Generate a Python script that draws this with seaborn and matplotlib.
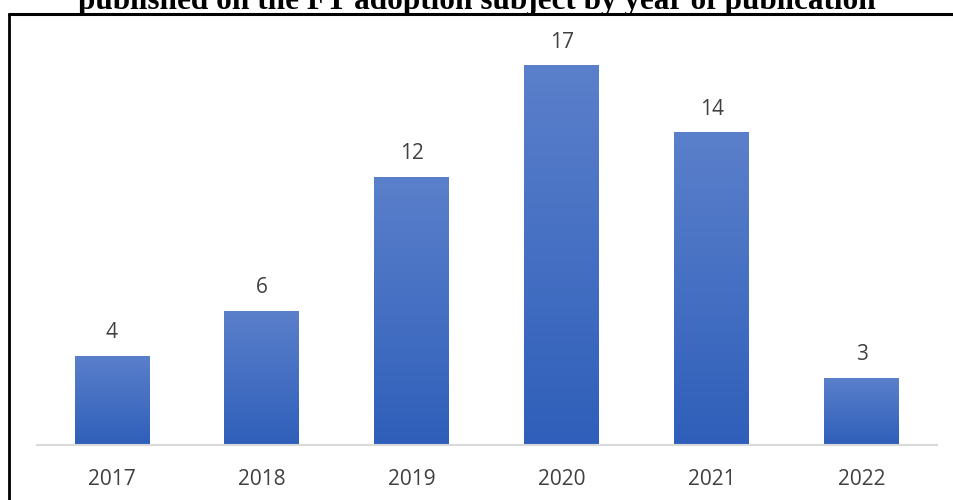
import numpy as np
import pandas as pd
import matplotlib
matplotlib.use("Agg")
import matplotlib.pyplot as plt
import matplotlib.patheffects as pe
from matplotlib.colors import LinearSegmentedColormap
import seaborn as sns

years = ["2017", "2018", "2019", "2020", "2021", "2022"]
counts = [4, 6, 12, 17, 14, 3]
title = "published on the FT adoption subject by year of publication"

sns.set_theme(style="white")
plt.rcParams["font.family"] = ["Open Sans", "DejaVu Sans"]

df = pd.DataFrame({"year": years, "count": counts})

fig = plt.figure(figsize=(9.54, 5.0), dpi=100)
ax = fig.add_axes([37 / 954, 1 - 445 / 500, 900 / 954, 425 / 500])

sns.barplot(data=df, x="year", y="count", color="#4472C4", width=0.5,
            saturation=1, ax=ax)

ax.set_ylim(0, 425 / 22.35)
ax.set_xlim(-0.5, len(years) - 0.5)

cmap = LinearSegmentedColormap.from_list("g", ["#2F5FBA", "#5B80CB"])
grad = np.linspace(0, 1, 256).reshape(-1, 1)
for p in ax.patches:
    x0, y0 = p.get_x(), p.get_y()
    w, h = p.get_width(), p.get_height()
    p.set_path_effects([pe.SimplePatchShadow(offset=(0, 0), shadow_rgbFace="#888888", alpha=0.25),
                        pe.Normal()])
    im = ax.imshow(grad, extent=(x0, x0 + w, y0, y0 + h), origin="lower",
                   cmap=cmap, aspect="auto", zorder=p.get_zorder() + 0.1)
    im.set_clip_path(p)

for i, v in enumerate(counts):
    ax.annotate(str(v), (i, v), xytext=(0, 9), textcoords="offset points",
                ha="center", va="bottom", fontsize=15, color="#404040")

ax.set_xlabel("")
ax.set_ylabel("")
ax.set_yticks([])
ax.tick_params(axis="x", length=0, labelsize=15, labelcolor="#404040", pad=17)
for s in ["top", "right", "left"]:
    ax.spines[s].set_visible(False)
ax.spines["bottom"].set_color("#D9D9D9")
ax.spines["bottom"].set_linewidth(1.5)

# frame
fig.add_artist(plt.Line2D([9 / 954, 1.0], [1 - 13.5 / 500, 1 - 13.5 / 500],
                          transform=fig.transFigure, color="black", lw=2.2))
fig.add_artist(plt.Line2D([9 / 954, 9 / 954], [0, 1 - 13.5 / 500],
                          transform=fig.transFigure, color="black", lw=2.0))

fig.text(477 / 954, 1 - 9 / 500, title, ha="center", va="baseline",
         fontsize=22.5, fontweight="bold", family=["Liberation Serif", "DejaVu Serif"],
         color="black")

fig.savefig("out.png", dpi=100)
